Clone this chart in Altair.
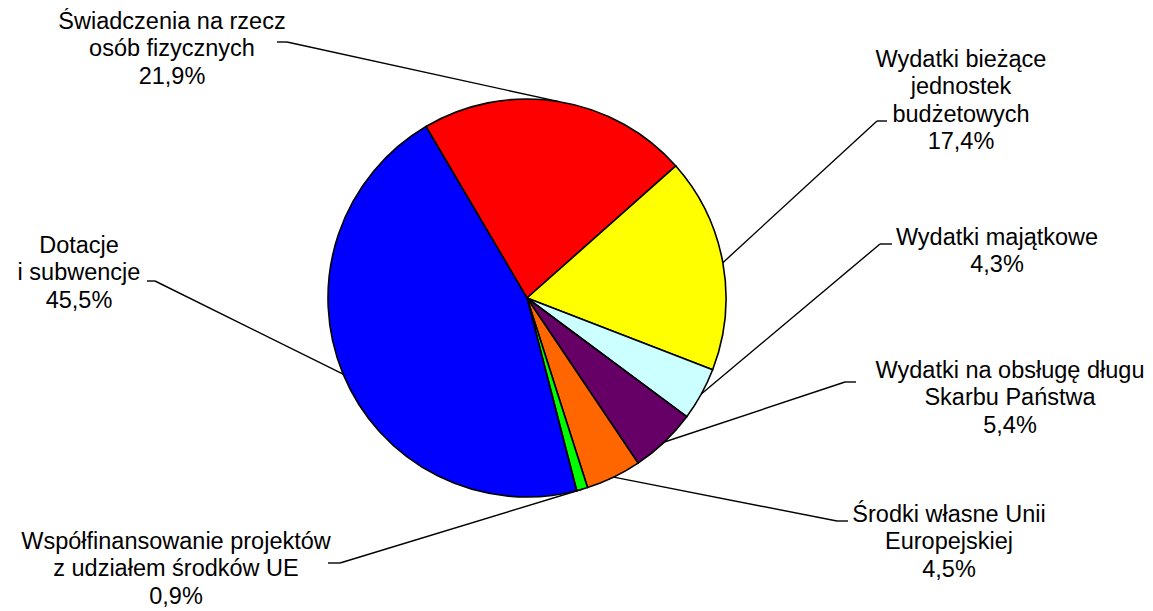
import math
import altair as alt
import pandas as pd

# ---- data -------------------------------------------------------------
categories = [
    "Świadczenia na rzecz osób fizycznych",
    "Wydatki bieżące jednostek budżetowych",
    "Wydatki majątkowe",
    "Wydatki na obsługę długu Skarbu Państwa",
    "Środki własne Unii Europejskiej",
    "Współfinansowanie projektów z udziałem środków UE",
    "Dotacje i subwencje",
]
shares = [21.9, 17.4, 4.3, 5.4, 4.5, 0.9, 45.5]
label_lines = [
    "Świadczenia na rzecz\nosób fizycznych",
    "Wydatki bieżące\njednostek\nbudżetowych",
    "Wydatki majątkowe",
    "Wydatki na obsługę długu\nSkarbu Państwa",
    "Środki własne Unii\nEuropejskiej",
    "Współfinansowanie projektów\nz udziałem środków UE",
    "Dotacje\ni subwencje",
]
colors = ["#FF0000", "#FFFF00", "#CCFFFF", "#660066", "#FF6600", "#00FF00", "#0000FF"]

# ---- layout (label anchor, leader elbow, leader end) -------------------
label_x = [164, 953, 989, 1002, 941, 168, 71]
label_y = [21, 59, 237, 370, 514, 541, 245]
elbow_x = [279, 869, 872, 837, 829, 332, 147]
elbow_y = [34, 113, 236, 374, 513, 555, 273]
end_x = [269, 879, 884, 848, 840, 320, 139]

CX, CY, R = 519, 290, 199
START = math.radians(329.5)
TOTAL = sum(shares)

df = pd.DataFrame({
    "idx": list(range(len(categories))),
    "cat": categories,
    "share": shares,
    "label": [f"{l}\n{str(v).replace('.', ',')}%" for l, v in zip(label_lines, shares)],
    "lx": label_x,
    "ly": label_y,
    "ex": elbow_x,
    "ey": elbow_y,
    "endx": end_x,
})

base = alt.Chart(df)

pie = base.mark_arc(outerRadius=R, stroke="black", strokeWidth=1.6).encode(
    theta=alt.Theta(
        "share:Q",
        stack=True,
        scale=alt.Scale(domain=[0, TOTAL], range=[START, START + 2 * math.pi], nice=False, zero=True),
    ),
    color=alt.Color("cat:N", scale=alt.Scale(domain=categories, range=colors), legend=None),
    order=alt.Order("idx:Q"),
    x=alt.value(CX),
    y=alt.value(CY),
)

leader_base = base.transform_window(
    cum="sum(share)", sort=[alt.SortField("idx")], frame=[None, 0]
).transform_joinaggregate(
    total="sum(share)"
).transform_calculate(
    mid=f"{START} + 2*PI*(datum.cum - datum.share/2)/datum.total",
).transform_calculate(
    px=f"{CX} + {R}*sin(datum.mid)",
    py=f"{CY} - {R}*cos(datum.mid)",
)

diag = leader_base.mark_rule(color="black", strokeWidth=1.4).encode(
    x=alt.X("px:Q", scale=None, axis=None),
    y=alt.Y("py:Q", scale=None, axis=None),
    x2="ex:Q",
    y2="ey:Q",
)

horiz = base.mark_rule(color="black", strokeWidth=1.4).encode(
    x=alt.X("ex:Q", scale=None, axis=None),
    x2="endx:Q",
    y=alt.Y("ey:Q", scale=None, axis=None),
)

labels = base.mark_text(
    align="center",
    baseline="alphabetic",
    lineBreak="\n",
    fontSize=23.5,
    lineHeight=27.3,
    font="Liberation Sans",
    color="black",
).encode(
    x=alt.X("lx:Q", scale=None, axis=None),
    y=alt.Y("ly:Q", scale=None, axis=None),
    text="label:N",
)

chart = alt.layer(pie, diag, horiz, labels).properties(
    width=1137,
    height=603,
    autosize=alt.AutoSizeParams(type="none"),
    padding=0,
    background="white",
).configure_view(stroke=None)

chart.save("out.html", embed_options={"renderer": "svg", "actions": False})
